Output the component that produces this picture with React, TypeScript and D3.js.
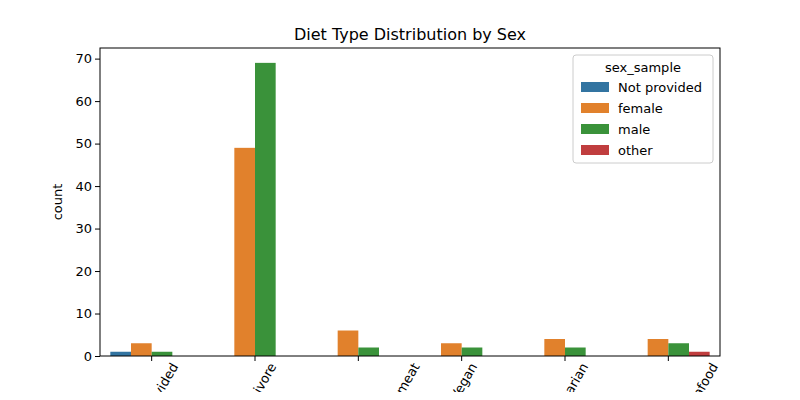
import * as d3 from "d3";
import { useEffect, useRef } from "react";

const categories = [
  "Not provided",
  "Omnivore",
  "Omnivore but do not eat red meat",
  "Vegan",
  "Vegetarian",
  "Vegetarian but eat seafood",
];
const hues = ["Not provided", "female", "male", "other"];
const colors = ["#3274a1", "#e1812c", "#3a923a", "#c03d3e"];
// counts[hue][category], null = no bar
const counts: (number | null)[][] = [
  [1, null, null, null, null, null],
  [3, 49, 6, 3, 4, 4],
  [1, 69, 2, 2, 2, 3],
  [null, null, null, null, null, 1],
];
const yTicks = [0, 10, 20, 30, 40, 50, 60, 70];

export default function App() {
  const svgRef = useRef<SVGSVGElement>(null);

  useEffect(() => {
    if (!svgRef.current) return;
    const svg = d3.select(svgRef.current);
    svg.selectAll("*").remove();

    const margin = { top: 48, right: 80, bottom: 44, left: 100 };
    const width = 800 - margin.left - margin.right;
    const height = 400 - margin.top - margin.bottom;
    const font = "DejaVu Sans, sans-serif";

    const x0 = d3.scaleBand().domain(categories).range([0, width]);
    const sub = d3.scaleBand().domain(hues).range([0, x0.bandwidth() * 0.8]);
    const y = d3.scaleLinear().domain([0, 72.5]).range([height, 0]);

    svg.append("text")
      .attr("x", margin.left + width / 2).attr("y", 40)
      .attr("text-anchor", "middle").style("font-family", font).style("font-size", "16px")
      .text("Diet Type Distribution by Sex");

    const g = svg.append("g").attr("transform", `translate(${margin.left},${margin.top})`);

    hues.forEach((h, hi) => {
      g.selectAll(`.bar-${hi}`)
        .data(categories.map((c, ci) => ({ c, v: counts[hi][ci] })).filter((d) => d.v != null))
        .enter().append("rect")
        .attr("x", (d) => (x0(d.c) as number) + x0.bandwidth() * 0.1 + (sub(h) as number))
        .attr("width", sub.bandwidth())
        .attr("y", (d) => y(d.v as number))
        .attr("height", (d) => height - y(d.v as number))
        .attr("fill", colors[hi]);
    });

    const yAxis = g.append("g").call(d3.axisLeft(y).tickValues(yTicks).tickSize(5).tickSizeOuter(0));
    yAxis.selectAll("text").style("font-family", font).style("font-size", "13px").attr("fill", "#000");
    yAxis.select(".domain").remove();

    const xAxis = g.append("g").attr("transform", `translate(0,${height})`)
      .call(d3.axisBottom(x0).tickSize(5).tickSizeOuter(0));
    xAxis.select(".domain").remove();
    xAxis.selectAll<SVGTextElement, string>("text")
      .style("font-family", font).style("font-size", "13px").attr("fill", "#000")
      .attr("text-anchor", "end")
      .each(function () {
        const t = d3.select(this);
        const w = this.getComputedTextLength();
        const hgt = 13;
        const c = Math.cos(Math.PI / 3), s = Math.sin(Math.PI / 3);
        const boxW = w * c + hgt * s;
        const ex = boxW / 2 - hgt * s * 0.5 + 2;
        t.attr("x", null).attr("y", null).attr("dy", "0.35em")
          .attr("transform", `translate(${ex},${8}) rotate(-60)`);
      });

    g.append("rect").attr("width", width).attr("height", height)
      .attr("fill", "none").attr("stroke", "#000").attr("stroke-width", 1);

    g.append("text").attr("transform", "rotate(-90)")
      .attr("x", -height / 2).attr("y", -38).attr("text-anchor", "middle")
      .style("font-family", font).style("font-size", "13px").text("count");

    // legend
    const lg = svg.append("g").attr("transform", `translate(573,55)`);
    lg.append("rect").attr("width", 140).attr("height", 108).attr("rx", 3)
      .attr("fill", "#fff").attr("fill-opacity", 0.8).attr("stroke", "#ccc");
    lg.append("text").attr("x", 70).attr("y", 17).attr("text-anchor", "middle")
      .style("font-family", font).style("font-size", "13px").text("sex_sample");
    hues.forEach((h, i) => {
      lg.append("rect").attr("x", 8).attr("y", 27 + i * 21).attr("width", 28).attr("height", 10).attr("fill", colors[i]);
      lg.append("text").attr("x", 45).attr("y", 37 + i * 21)
        .style("font-family", font).style("font-size", "13px").text(h);
    });
  }, []);

  return <svg ref={svgRef} width={800} height={400} style={{ display: "block", margin: -8 }} />;
}
